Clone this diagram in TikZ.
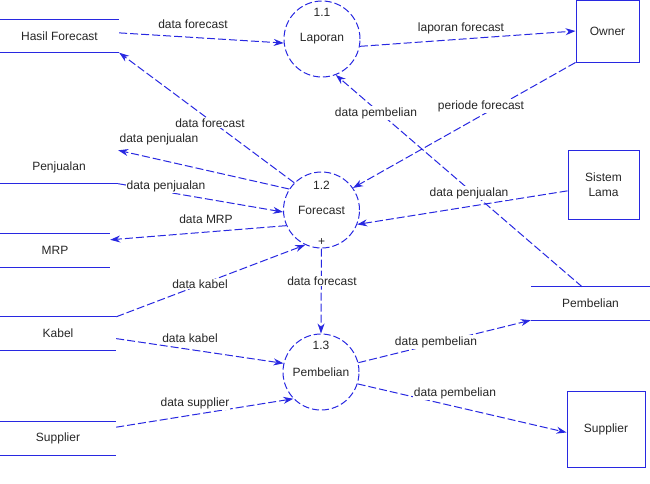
\documentclass[tikz,border=0pt]{standalone}
\usepackage{fontspec}
\setmainfont{Liberation Sans}
\usetikzlibrary{calc, positioning, arrows.meta}
\definecolor{dfdblue}{RGB}{40,40,225}

\begin{document}
\begin{tikzpicture}[x=1pt, y=-1pt, font=\fontsize{12}{15}\selectfont, text=black!85]
    % Definindo os estilos
    \tikzstyle{process} = [circle, draw=dfdblue, line width=1pt, dash pattern=on 7pt off 3pt, minimum size=76pt, inner sep=0pt]
    \tikzstyle{entity} = [rectangle, draw=dfdblue, line width=1pt, align=center]
    \tikzstyle{store} = [rectangle, minimum height=33pt, inner sep=0pt]
    \tikzstyle{store_line} = [draw=dfdblue, line width=1pt]
    \tikzstyle{pnum} = [inner sep=1pt]
    \tikzstyle{flow} = [draw=dfdblue, line width=1pt, dash pattern=on 8pt off 3pt, -{Stealth[length=10pt, width=7pt]}]
    \tikzstyle{flow_label} = [fill=white, inner sep=1pt]

    \useasboundingbox (0,0) rectangle (650,483);

    % Processos
    \node [process] (lap) at (322,39) {Laporan};
    \node [process] (fc) at (321.5,210) {Forecast};
    \node [process] (pem) at (321,372) {Pembelian};
    \node [pnum] (n11) at ([yshift=27pt]lap.center) {1.1};
    \node [pnum] (n12) at ([yshift=25pt]fc.center) {1.2};
    \node [pnum] (n13) at ([yshift=27pt]pem.center) {1.3};
    \node [pnum] (plus) at ([yshift=6pt]fc.south) {+};

    % Entidades externas
    \node [entity, minimum width=63pt, minimum height=62pt] (owner) at (607.5,31) {Owner};
    \node [entity, minimum width=71pt, minimum height=69pt] (sistem) at (603.5,184.5) {Sistem\\Lama};
    \node [entity, minimum width=78pt, minimum height=76pt] (sbox) at (606,429) {Supplier};

    % Depositos de dados
    \node [store, minimum width=119pt] (hasil) at (59.5,36) {Hasil Forecast};
    \node [store, minimum width=118pt] (pen) at (59,167) {Penjualan};
    \node [store, minimum width=110pt] (mrp) at (55,250.5) {MRP};
    \node [store, minimum width=116pt] (kabel) at (58,333.5) {Kabel};
    \node [store, minimum width=116pt] (sstore) at (58,438.5) {Supplier};
    \node [store, minimum width=119pt] (pstore) at (590.5,303.5) {Pembelian};

    \path [store_line] (hasil.north west) -- (hasil.north east) (hasil.south west) -- (hasil.south east);
    \path [store_line] (pen.south west) -- (pen.south east);
    \path [store_line] (mrp.north west) -- (mrp.north east) (mrp.south west) -- (mrp.south east);
    \path [store_line] (kabel.north west) -- (kabel.north east) (kabel.south west) -- (kabel.south east);
    \path [store_line] (sstore.north west) -- (sstore.north east) (sstore.south west) -- (sstore.south east);
    \path [store_line] (pstore.north west) -- (pstore.north east) (pstore.south west) -- (pstore.south east);

    % Fluxos de dados
    \path [flow] (hasil.3) -- (lap.186);
    \path [flow] (lap.349) -- (owner.west);
    \path [flow] (owner.south west) -- (fc.35);
    \path [flow] ($(pstore.north west)!0.43!(pstore.north east)$) -- (lap.291);
    \path [flow] (fc.135) -- (hasil.south east);
    \path [flow] (fc.147) -- (pen.north east);
    \path [flow] (pen.south east) -- (fc.183);
    \path [flow] (fc.204) -- (mrp.11);
    \path [flow] (kabel.north east) -- (fc.245);
    \path [flow] (fc.south) -- (pem.north);
    \path [flow] (sistem.190) -- (fc.338);
    \path [flow] (kabel.355) -- (pem.167);
    \path [flow] (sstore.11) -- (pem.224);
    \path [flow] (pem.14) -- (pstore.south west);
    \path [flow] (pem.342) -- (sbox.185);

    % Rotulos dos fluxos
    \node [flow_label] (l_hf) at (193,24) {data forecast};
    \node [flow_label] (l_lf) at (461,28) {laporan forecast};
    \node [flow_label] (l_pf) at (481,106) {periode forecast};
    \node [flow_label] (l_pb1) at (376,113) {data pembelian};
    \node [flow_label] (l_fc1) at (210,123) {data forecast};
    \node [flow_label] (l_pj1) at (159,139) {data penjualan};
    \node [flow_label] (l_pj2) at (166,186) {data penjualan};
    \node [flow_label] (l_mrp) at (206,219) {data MRP};
    \node [flow_label] (l_kb1) at (200,284) {data kabel};
    \node [flow_label] (l_fc2) at (322,281) {data forecast};
    \node [flow_label] (l_pj3) at (469,193) {data penjualan};
    \node [flow_label] (l_kb2) at (190,338) {data kabel};
    \node [flow_label] (l_sp) at (195,403) {data supplier};
    \node [flow_label] (l_pb2) at (436,342) {data pembelian};
    \node [flow_label] (l_pb3) at (455,393) {data pembelian};
\end{tikzpicture}
\end{document}
